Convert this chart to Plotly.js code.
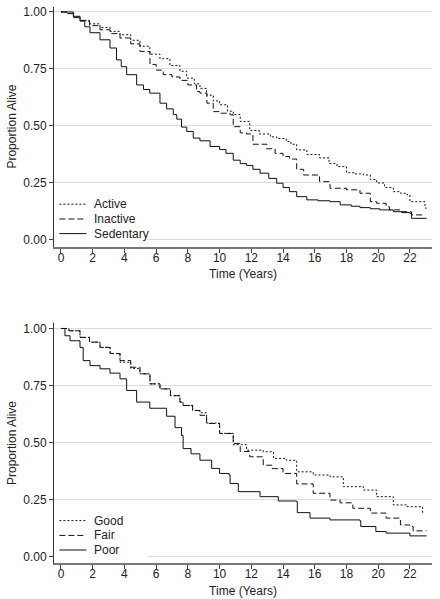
<!DOCTYPE html>
<html><head><meta charset="utf-8">
<script src="https://cdn.plot.ly/plotly-3.0.1.min.js"></script>
<style>html,body{margin:0;padding:0;background:#fff}#chart{width:440px;height:599px}</style>
</head><body><div id="chart"></div>
<script>
// ---- data ----
const activityNames = ['Active', 'Inactive', 'Sedentary'];
const healthNames = ['Good', 'Fair', 'Poor'];
const xTickVals = [0, 2, 4, 6, 8, 10, 12, 14, 16, 18, 20, 22];
const yTickVals = [0, 0.25, 0.5, 0.75, 1];
const xAxisTitle = 'Time (Years)';
const yAxisTitle = 'Proportion Alive';

const activeT = [0,0.4,0.8,1.2,1.8,2.46,3.1,3.72,4.4,4.98,5.6,6.24,6.87,7.5,7.93,8.4,8.76,9.18,9.6,10.0,10.5,10.86,11.3,11.9,12.5,13.2,13.6,14.2,14.5,14.86,15.5,16.3,16.9,17.4,18.0,18.5,19.06,19.5,19.9,20.4,20.95,21.4,21.8,22.0,22.74,22.95,23.05];
const activeS = [1,0.993,0.978,0.963,0.948,0.932,0.915,0.9,0.876,0.85,0.815,0.795,0.765,0.74,0.71,0.685,0.665,0.635,0.61,0.593,0.565,0.55,0.52,0.48,0.465,0.452,0.445,0.432,0.42,0.395,0.375,0.36,0.335,0.322,0.295,0.29,0.285,0.265,0.25,0.23,0.212,0.205,0.198,0.168,0.168,0.14,0.14];

const inactiveT = [0,0.4,0.8,1.2,1.8,2.46,3.1,3.72,4.4,4.98,5.61,6.0,6.45,7.0,7.5,8.0,8.55,8.76,9.2,9.6,10.0,10.66,10.86,11.3,11.7,12.1,12.97,13.5,14.0,14.4,14.86,15.3,16.3,16.96,18.0,18.85,19.5,19.9,20.5,20.7,21.4,22.1,22.85];
const inactiveS = [1,0.993,0.975,0.96,0.94,0.922,0.905,0.886,0.86,0.827,0.77,0.745,0.725,0.715,0.7,0.68,0.651,0.644,0.6,0.563,0.556,0.549,0.497,0.47,0.465,0.42,0.4,0.38,0.366,0.355,0.31,0.285,0.256,0.227,0.22,0.205,0.168,0.161,0.146,0.132,0.124,0.11,0.105];

const sedentaryT = [0,0.3,0.78,1.2,1.5,1.83,2.46,3.09,3.5,3.8,4.14,4.77,5.2,5.6,6.24,6.66,7.08,7.3,7.6,7.93,8.34,8.76,9.4,10.0,10.4,10.86,11.3,11.7,12.1,12.55,13.1,13.6,14.0,14.4,14.86,15.5,16.2,16.96,17.6,18.3,18.85,19.5,20.1,20.95,21.5,22.0,22.1,23.05];
const sedentaryS = [1,1,0.981,0.963,0.935,0.909,0.878,0.842,0.79,0.76,0.725,0.68,0.66,0.644,0.6,0.575,0.55,0.53,0.495,0.476,0.447,0.435,0.41,0.397,0.38,0.35,0.335,0.327,0.31,0.293,0.27,0.249,0.23,0.212,0.19,0.176,0.172,0.168,0.154,0.148,0.142,0.137,0.132,0.124,0.12,0.117,0.095,0.095];

const goodT = [0,0.5,1.2,1.8,2.46,3.1,3.72,4.4,4.98,5.61,6.24,6.9,7.5,7.7,8.3,8.76,9.18,10.0,10.86,11.7,12.75,13.4,14.2,14.86,15.9,16.96,17.8,19.06,19.9,20.95,21.8,22.7,22.8,22.9];
const goodS = [1,0.99,0.961,0.94,0.917,0.89,0.852,0.825,0.801,0.757,0.735,0.705,0.677,0.662,0.64,0.63,0.585,0.54,0.49,0.466,0.459,0.43,0.422,0.371,0.357,0.349,0.306,0.291,0.262,0.226,0.218,0.218,0.19,0.19];

const fairT = [0,0.5,1.2,1.8,2.46,3.1,3.72,4.4,4.98,5.61,6.24,6.9,7.5,7.7,8.3,8.76,9.18,10.0,10.86,11.3,11.9,12.75,13.3,14.0,14.86,15.9,16.96,17.6,18.4,19.5,20.5,21.4,22.0,22.2,23.05];
const fairS = [1,0.99,0.961,0.94,0.917,0.89,0.859,0.83,0.801,0.757,0.735,0.705,0.677,0.662,0.64,0.619,0.583,0.539,0.495,0.46,0.437,0.4,0.385,0.364,0.318,0.277,0.247,0.235,0.211,0.19,0.168,0.138,0.131,0.112,0.112];

const poorT = [0,0.25,0.57,1.2,1.4,1.83,2.46,3.09,3.72,4.14,4.77,5.6,6.66,7.19,7.6,7.7,8.2,8.76,9.5,10.0,10.6,10.66,11.18,12.55,13.7,14.86,14.9,15.7,16.96,18.85,18.9,19.8,19.85,20.5,22.0,23.05];
const poorS = [1,0.968,0.946,0.917,0.859,0.837,0.823,0.804,0.779,0.728,0.677,0.65,0.615,0.565,0.53,0.473,0.45,0.422,0.386,0.364,0.357,0.32,0.284,0.262,0.243,0.24,0.192,0.168,0.16,0.156,0.131,0.131,0.109,0.102,0.09,0.09];

// ---- styling ----
const FONT = 'Liberation Sans, Arial, sans-serif';
const dashes = ['2px,2px', '6px,3px', 'solid'];
const lineColor = '#111';

const panels = [
  {names: activityNames, ts: [activeT, inactiveT, sedentaryT], ss: [activeS, inactiveS, sedentaryS], xa: 'x', ya: 'y'},
  {names: healthNames, ts: [goodT, fairT, poorT], ss: [goodS, fairS, poorS], xa: 'x2', ya: 'y2'}
];

const traces = [];
const shapes = [];
const annotations = [];
const legendRowY = [0.157, 0.092, 0.028];
const legendLineX = [-0.1, 1.6];
const legendTextX = 1.95;

panels.forEach(p => {
  p.names.forEach((nm, i) => {
    traces.push({
      x: p.ts[i], y: p.ss[i], type: 'scatter', mode: 'lines', name: nm,
      xaxis: p.xa, yaxis: p.ya, line: {shape: 'hv', color: lineColor, width: 1, dash: dashes[i]},
      hoverinfo: 'skip', showlegend: false
    });
  });
  // white legend background box
  shapes.push({type: 'rect', xref: p.xa, yref: p.ya, x0: -0.44, x1: 5.43, y0: -0.026, y1: 0.2,
    fillcolor: '#fff', line: {width: 0}, layer: 'between'});
  p.names.forEach((nm, i) => {
    shapes.push({type: 'line', xref: p.xa, yref: p.ya, x0: legendLineX[0], x1: legendLineX[1],
      y0: legendRowY[i], y1: legendRowY[i], line: {color: lineColor, width: 1, dash: dashes[i]}});
    annotations.push({xref: p.xa, yref: p.ya, x: legendTextX, y: legendRowY[i], text: nm,
      showarrow: false, xanchor: 'left', yanchor: 'middle', font: {family: FONT, size: 12, color: '#222'}});
  });
});

function xAxis() {
  return {
    domain: [54/440, 432/440], range: [-0.44, 23.39], tickvals: xTickVals,
    ticks: 'outside', ticklen: 4, tickwidth: 1, tickcolor: '#444', ticklabelstandoff: -5,
    showline: true, linecolor: '#777', linewidth: 2, showgrid: false, zeroline: false,
    tickfont: {family: FONT, size: 12, color: '#222'},
    title: {text: xAxisTitle, font: {family: FONT, size: 12, color: '#222'}, standoff: 6}
  };
}
function yAxis(domain) {
  return {
    domain: domain, range: [-0.029, 1.024], tickvals: yTickVals, tickformat: '.2f',
    ticks: 'outside', ticklen: 4, tickwidth: 1, tickcolor: '#444',
    showline: true, linecolor: '#333', linewidth: 1, showgrid: true, gridcolor: '#dcdcdc', gridwidth: 1,
    zeroline: false, tickfont: {family: FONT, size: 12, color: '#222'},
    title: {text: yAxisTitle, font: {family: FONT, size: 12, color: '#222'}, standoff: 4}
  };
}

const layout = {
  width: 440, height: 599, margin: {l: 0, r: 0, t: 0, b: 0},
  paper_bgcolor: '#fff', plot_bgcolor: '#fff', showlegend: false,
  xaxis: Object.assign(xAxis(), {anchor: 'y'}),
  yaxis: Object.assign(yAxis([1 - 246.6/599, 1 - 6.5/599]), {anchor: 'x'}),
  xaxis2: Object.assign(xAxis(), {anchor: 'y2'}),
  yaxis2: Object.assign(yAxis([1 - 563/599, 1 - 323/599]), {anchor: 'x2'}),
  shapes: shapes, annotations: annotations
};

Plotly.newPlot('chart', traces, layout, {staticPlot: true, displayModeBar: false});
</script>
</body></html>
